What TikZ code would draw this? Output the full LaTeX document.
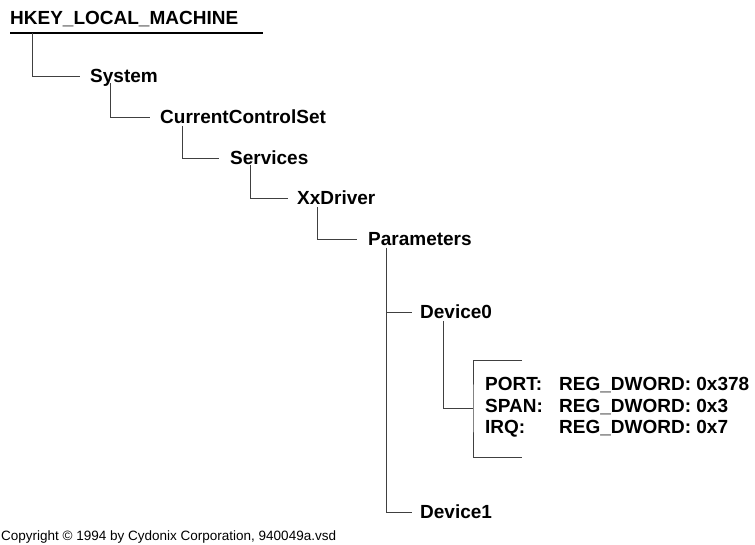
\documentclass[tikz,border=0pt]{standalone}
\usepackage{fontspec}
\setmainfont{Liberation Sans}
\usetikzlibrary{positioning}

\begin{document}
\begin{tikzpicture}[
  x=1pt, y=-1pt,
  key/.style={inner sep=0pt, anchor=west, text height=13.6pt, text depth=0pt, font=\fontsize{19}{23}\selectfont\bfseries},
  note/.style={inner sep=0pt, anchor=west, font=\fontsize{13.5}{16}\selectfont},
  branch/.style={draw=black!75, line width=0.7pt},
  rule/.style={draw=black, line width=2pt}
]
\useasboundingbox (0,0) rectangle (755,545);

\node[key] (hklm) at (10,18) {HKEY\_LOCAL\_MACHINE};
\node[key] (system) at (90,76) {System};
\node[key] (ccs) at (160,117) {CurrentControlSet};
\node[key] (services) at (230,158) {Services};
\node[key] (xxdriver) at (297,198) {XxDriver};
\node[key] (params) at (368,239) {Parameters};
\node[key] (device0) at (420,312) {Device0};
\node[key] (device1) at (420,512) {Device1};

\node[key] (portkey) at (485,384) {PORT:};
\node[key] (spankey) at (485,406) {SPAN:};
\node[key] (irqkey) at (485,427) {IRQ:};
\node[key] (portval) at (559,384) {REG\_DWORD: 0x378};
\node[key] (spanval) at (559,406) {REG\_DWORD: 0x3};
\node[key] (irqval) at (559,427) {REG\_DWORD: 0x7};

\node[note] (copy) at (1,537) {Copyright \textcopyright\ 1994 by Cydonix Corporation, 940049a.vsd};

% underline of the root key
\draw[rule] ([yshift=-8pt]hklm.base west) -- ([xshift=25pt,yshift=-8pt]hklm.base east);

% tree branches
\draw[branch, shorten >=10pt] ([xshift=22pt,yshift=-8pt]hklm.base west) |- (system.west);
\draw[branch, shorten >=10pt] ([xshift=20pt]system.base west) |- (ccs.west);
\draw[branch, shorten >=11pt] ([xshift=22pt,yshift=-2pt]ccs.base west) |- (services.west);
\draw[branch, shorten >=9pt] ([xshift=20pt]services.base west) |- (xxdriver.west);
\draw[branch, shorten >=11pt] ([xshift=20pt,yshift=-2pt]xxdriver.base west) |- (params.west);
\draw[branch, shorten >=8pt] ([xshift=18pt,yshift=-2pt]params.base west) |- (device0.west);
\draw[branch, shorten >=8pt] ([xshift=18pt,yshift=-2pt]params.base west) |- (device1.west);

% bracket round the values
\coordinate (btop) at (522,360);
\coordinate (bbot) at (522,457);
\coordinate (bspine) at (473,408);
\draw[branch] (btop) -| (bspine) |- (bbot);
\draw[branch] ([xshift=23pt,yshift=-2pt]device0.base west) |- (bspine);

\end{tikzpicture}
\end{document}
